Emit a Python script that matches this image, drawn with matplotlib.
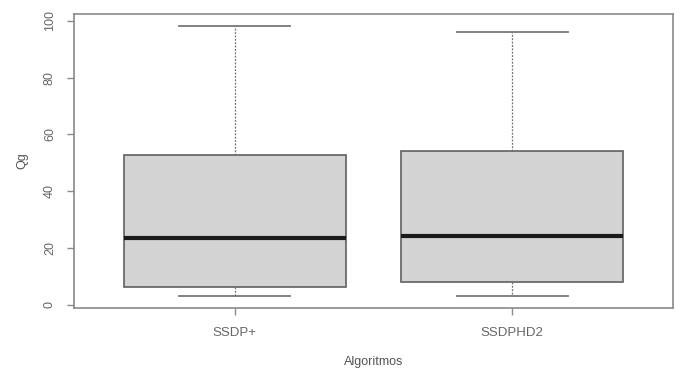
import numpy as np
import matplotlib.pyplot as plt

plt.rcParams['font.family'] = ['Liberation Sans', 'DejaVu Sans']

# data
labels = ['SSDP+', 'SSDPHD2']
whislo = [3.3, 3.3]
q1 = [6.4, 8.2]
med = [23.4, 24.3]
q3 = [52.6, 54.3]
whishi = [98.2, 96.1]

stats = []
for i in range(len(labels)):
    stats.append(dict(label=labels[i], whislo=whislo[i], q1=q1[i], med=med[i],
                      q3=q3[i], whishi=whishi[i], fliers=[]))

fig = plt.figure(figsize=(6.81, 3.68), dpi=100)
ax = fig.add_axes([74 / 681, 60 / 368, 599 / 681, 294 / 368])

edge = '#606060'
ax.bxp(stats, positions=[1, 2], widths=0.8, patch_artist=True,
       showfliers=False,
       boxprops=dict(facecolor='#d3d3d3', edgecolor=edge, linewidth=1.2),
       medianprops=dict(color='#1a1a1a', linewidth=3, solid_capstyle='butt'),
       whiskerprops=dict(color='#707070', linewidth=0.9, linestyle=(0, (1.5, 1.2))),
       capprops=dict(color='#777777', linewidth=1.3),
       capwidths=0.4)

# R style axis extension of 4%
lo = min(whislo)
hi = max(whishi)
pad = 0.04 * (hi - lo)
ax.set_ylim(lo - pad - 0.6, hi + pad + 0.4)
ax.set_xlim(0.42, 2.58)

for s in ax.spines.values():
    s.set_color('#8a8a8a')
    s.set_linewidth(1.2)

ax.set_yticks([0, 20, 40, 60, 80, 100])
ax.set_yticklabels(['0', '20', '40', '60', '80', '100'], rotation=90, va='center')
ax.set_xticks([1, 2])
ax.set_xticklabels(labels)
ax.tick_params(colors='#8a8a8a', labelcolor='#666666', labelsize=9, length=5, width=1)
ax.tick_params(axis='x', pad=9, labelsize=9.5)
ax.tick_params(axis='y', pad=8)

ax.set_xlabel('Algoritmos', fontsize=9, color='#555555', labelpad=12)
ax.set_ylabel('Qg', fontsize=9, color='#555555', labelpad=11)

fig.savefig('out.png', dpi=100)
